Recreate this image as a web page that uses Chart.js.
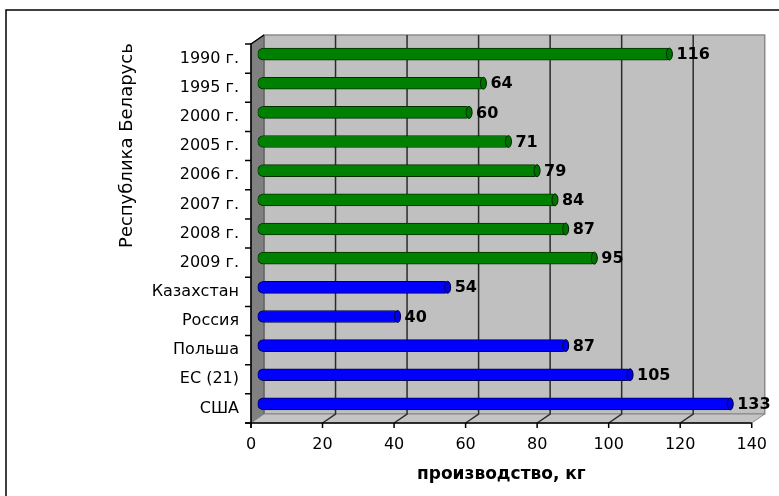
<!DOCTYPE html>
<html>
<head>
<meta charset="utf-8">
<script src="https://cdn.jsdelivr.net/npm/chart.js@4/dist/chart.umd.min.js"></script>
<style>
  html, body { margin: 0; padding: 0; background: #fff; }
  #wrap { width: 779px; height: 496px; }
</style>
</head>
<body>
<div id="wrap"><canvas id="canvas"></canvas></div>
<script>
// Belarus by years, then other countries
const belarusYears = ['1990 г.', '1995 г.', '2000 г.', '2005 г.', '2006 г.', '2007 г.', '2008 г.', '2009 г.'];
const belarusValues = [116, 64, 60, 71, 79, 84, 87, 95];
const countries = ['Казахстан', 'Россия', 'Польша', 'ЕС (21)', 'США'];
const countryValues = [54, 40, 87, 105, 133];
const xTickValues = [0, 20, 40, 60, 80, 100, 120, 140];

const labels = belarusYears.concat(countries);
const values = belarusValues.concat(countryValues);

Chart.defaults.font.family = '"DejaVu Sans", sans-serif';
Chart.defaults.color = '#000';

// depth of the 3d box and where the bars sit inside it
const DX = 13, DY = 9;
const BAR_DX = 6.5, BAR_DY = -4.5;

const boxPlugin = {
  id: 'box',
  beforeDraw(chart) {
    const ctx = chart.ctx;
    const x = chart.scales.x, y = chart.scales.y;
    const L = chart.chartArea.left, R = chart.chartArea.right;
    const T = chart.chartArea.top, B = chart.chartArea.bottom;
    ctx.save();

    // outer frame
    ctx.strokeStyle = '#000';
    ctx.lineWidth = 1.5;
    ctx.strokeRect(6, 10, 1000, 1000);

    // back wall
    ctx.fillStyle = '#c0c0c0';
    ctx.fillRect(L + DX, T - DY, R - L, B - T);
    ctx.strokeStyle = '#8a8a8a';
    ctx.lineWidth = 1.5;
    ctx.strokeRect(L + DX, T - DY, R - L, B - T);

    // left wall
    ctx.fillStyle = '#808080';
    ctx.beginPath();
    ctx.moveTo(L, T); ctx.lineTo(L + DX, T - DY); ctx.lineTo(L + DX, B - DY); ctx.lineTo(L, B);
    ctx.closePath(); ctx.fill();
    ctx.strokeStyle = '#555';
    ctx.lineWidth = 1;
    ctx.stroke();

    // floor
    ctx.fillStyle = '#c4c4c4';
    ctx.beginPath();
    ctx.moveTo(L, B); ctx.lineTo(L + DX, B - DY); ctx.lineTo(R + DX, B - DY); ctx.lineTo(R, B);
    ctx.closePath(); ctx.fill();
    ctx.strokeStyle = '#8a8a8a';
    ctx.stroke();

    // grid lines on the back wall and the floor
    ctx.strokeStyle = '#2b2b2b';
    ctx.lineWidth = 1.5;
    xTickValues.forEach(v => {
      const px = x.getPixelForValue(v);
      if (v > x.min && v < x.max) {
        ctx.beginPath();
        ctx.moveTo(px + DX, T - DY);
        ctx.lineTo(px + DX, B - DY);
        ctx.lineTo(px, B);
        ctx.stroke();
      }
    });

    // front axes
    ctx.strokeStyle = '#000';
    ctx.lineWidth = 1.5;
    ctx.beginPath();
    ctx.moveTo(L, T - 1); ctx.lineTo(L, B + 5);
    ctx.moveTo(L - 6, B); ctx.lineTo(R, B);
    ctx.moveTo(L, T); ctx.lineTo(L + DX, T - DY);
    ctx.stroke();

    // x ticks
    ctx.beginPath();
    xTickValues.forEach(v => {
      const px = x.getPixelForValue(v);
      ctx.moveTo(px, B); ctx.lineTo(px, B + 5);
    });
    ctx.stroke();

    // category ticks
    const step = (B - T) / labels.length;
    ctx.beginPath();
    for (let i = 0; i <= labels.length; i++) {
      const py = y.getPixelForValue(0) - step / 2 + i * step;
      ctx.moveTo(L - 6, py); ctx.lineTo(L, py);
    }
    ctx.stroke();

    // title for the Belarus group
    const gTop = y.getPixelForValue(0) - step / 2;
    const gBottom = y.getPixelForValue(belarusYears.length - 1) + step / 2;
    ctx.translate(127, (gTop + gBottom) / 2 - 15);
    ctx.rotate(-Math.PI / 2);
    ctx.font = '18px "DejaVu Sans"';
    ctx.textAlign = 'center';
    ctx.textBaseline = 'middle';
    ctx.fillStyle = '#000';
    ctx.fillText('Республика Беларусь', 0, 0);
    ctx.restore();
  },
  beforeDatasetsDraw(chart) {
    chart.ctx.save();
    chart.ctx.translate(BAR_DX, BAR_DY);
  },
  afterDatasetsDraw(chart) {
    const ctx = chart.ctx;
    const meta = chart.getDatasetMeta(0);
    meta.data.forEach((bar, i) => {
      const h = bar.height;
      // end cap of the cylinder
      ctx.beginPath();
      ctx.ellipse(bar.x - 3, bar.y, 3, h / 2, 0, 0, Math.PI * 2);
      ctx.fillStyle = i < belarusYears.length ? '#007000' : '#0000e6';
      ctx.fill();
      ctx.strokeStyle = i < belarusYears.length ? '#002800' : '#000040';
      ctx.lineWidth = 1;
      ctx.stroke();
      // value label
      ctx.font = 'bold 16px "DejaVu Sans"';
      ctx.fillStyle = '#000';
      ctx.textAlign = 'left';
      ctx.textBaseline = 'middle';
      ctx.fillText(values[i], bar.x + 4, bar.y + 1);
    });
    ctx.restore();
  }
};

new Chart(document.getElementById('canvas'), {
  type: 'bar',
  data: {
    labels: labels,
    datasets: [{
      data: values,
      backgroundColor: labels.map((l, i) => i < belarusYears.length ? '#008000' : '#0000ff'),
      borderColor: labels.map((l, i) => i < belarusYears.length ? '#003000' : '#000050'),
      borderWidth: 1,
      borderRadius: 6,
      borderSkipped: false,
      barThickness: 12
    }]
  },
  options: {
    indexAxis: 'y',
    responsive: true,
    maintainAspectRatio: false,
    animation: false,
    layout: { padding: { top: 44, right: 24, left: 0, bottom: 0 } },
    plugins: {
      legend: { display: false },
      tooltip: { enabled: false }
    },
    scales: {
      x: {
        type: 'linear',
        min: xTickValues[0],
        max: xTickValues[xTickValues.length - 1],
        ticks: { stepSize: 20, padding: 12, font: { size: 16 }, color: '#000' },
        grid: { display: false, drawTicks: false },
        border: { display: false },
        title: {
          display: true,
          text: 'производство, кг',
          font: { size: 17, weight: 'bold' },
          color: '#000',
          padding: { top: 0, bottom: 11 }
        },
        afterFit(scale) { scale.height = 73; }
      },
      y: {
        type: 'category',
        offset: true,
        ticks: { padding: 12, font: { size: 16 }, color: '#000', autoSkip: false },
        grid: { display: false, drawTicks: false },
        border: { display: false },
        afterFit(scale) { scale.width = 251; }
      }
    }
  },
  plugins: [boxPlugin]
});
</script>
</body>
</html>
